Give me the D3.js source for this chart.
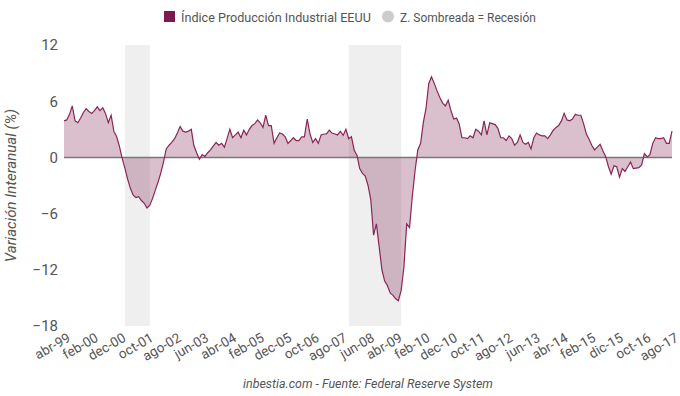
<!DOCTYPE html>
<html>
<head>
<meta charset="utf-8">
<script src="https://cdn.jsdelivr.net/npm/d3@7"></script>
<style>
  body { margin: 0; background: #fff; }
  svg text { font-family: Roboto, "Liberation Sans", Arial, sans-serif; fill: #555; }
</style>
</head>
<body>
<div id="chart"></div>
<script>
// monthly, abr-99 .. ago-17
const startMonth = new Date(1999, 3, 1)
const ipValues = [
  3.9, 4.0, 4.6, 5.5, 3.9, 3.7, 4.2, 4.8, 5.2,
  4.9, 4.7, 5.0, 5.4, 5.0, 5.3, 4.7, 3.7, 4.5, 2.8, 2.2, 1.2,
  -0.1, -1.2, -2.3, -3.3, -4.0, -4.3, -4.2, -4.6, -4.9, -5.4, -5.1, -4.4,
  -3.5, -2.6, -1.7, -0.5, 0.9, 1.3, 1.6, 2.0, 2.6, 3.3, 2.8, 2.7,
  2.8, 3.0, 1.3, 0.5, -0.2, 0.3, 0.1, 0.5, 0.8, 1.2, 1.6, 1.3,
  1.5, 1.1, 2.0, 3.0, 2.1, 2.4, 2.7, 2.1, 2.9, 2.4, 3.0, 3.4,
  3.6, 4.0, 3.7, 3.2, 4.5, 3.4, 3.4, 1.5, 2.1, 2.6, 2.5, 2.2,
  1.5, 1.8, 2.1, 1.8, 1.8, 2.2, 2.2, 4.1, 2.5, 1.6, 2.0, 1.5,
  2.4, 2.5, 2.5, 2.9, 2.6, 2.5, 2.4, 2.8, 2.35, 3.0, 2.0, 2.2,
  0.75, 0.2, -1.2, -1.7, -2.0, -3.0, -4.5, -8.3, -7.1, -9.5, -12.0, -13.2,
  -13.7, -14.5, -14.7, -15.1, -15.3, -14.2, -11.7, -7.1, -7.5, -4.2, -1.4, 0.8,
  1.5, 3.8, 5.2, 7.9, 8.6, 7.9, 7.1, 6.4, 5.8, 5.5, 6.1, 5.0,
  4.1, 4.2, 3.6, 2.1, 2.1, 2.0, 2.3, 2.1, 3.0, 2.8, 2.4, 3.9,
  2.4, 3.7, 3.6, 3.5, 3.1, 2.1, 2.1, 1.8, 2.3, 2.0, 1.3, 1.6,
  2.4, 1.6, 1.4, 1.6, 0.9, 2.1, 2.6, 2.4, 2.3, 2.3, 2.0, 2.4,
  2.9, 3.2, 3.4, 3.9, 4.7, 4.0, 3.9, 4.1, 4.6, 4.5, 4.5, 3.6,
  2.5, 1.9, 1.3, 0.8, 1.1, 1.4, 0.7, 0.1, -1.0, -1.8, -0.9, -1.0,
  -2.1, -1.2, -1.5, -1.0, -0.5, -1.2, -1.15, -1.1, -0.8, 0.4, 0.05, 0.3,
  1.5, 2.1, 2.0, 2.0, 2.1, 1.5, 1.5, 2.8
]
const tickLabels = ['abr-99', 'feb-00', 'dec-00', 'oct-01', 'ago-02', 'jun-03', 'abr-04',
  'feb-05', 'dec-05', 'oct-06', 'ago-07', 'jun-08', 'abr-09', 'feb-10', 'dec-10', 'oct-11',
  'ago-12', 'jun-13', 'abr-14', 'feb-15', 'dic-15', 'oct-16', 'ago-17']
const yTicks = [12, 6, 0, -6, -12, -18]
// recession periods as [first month, last month]
const recessions = [
  [new Date(2001, 1, 1), new Date(2001, 10, 1)],
  [new Date(2007, 10, 1), new Date(2009, 5, 1)]
]

const width = 680
const height = 396
const margin = { top: 45, right: 8, bottom: 70, left: 64 }
const mainColor = '#7b1a4b'

// shrink a text until it fits a given width
function fitText (sel, maxWidth) {
  const node = sel.node()
  const size = parseFloat(sel.style('font-size'))
  const len = node.getComputedTextLength()
  if (len > maxWidth) sel.style('font-size', (size * maxWidth / len) + 'px')
  return sel
}

const data = ipValues.map((v, i) => ({ date: d3.timeMonth.offset(startMonth, i), value: v }))
const tickDates = tickLabels.map((_, i) => d3.timeMonth.offset(startMonth, i * 10))

const x = d3.scaleTime()
  .domain(d3.extent(data, d => d.date))
  .range([margin.left, width - margin.right])
const y = d3.scaleLinear()
  .domain([-18, 12])
  .range([height - margin.bottom, margin.top])

const svg = d3.select('#chart').append('svg')
  .attr('width', width)
  .attr('height', height)

svg.selectAll('.rec')
  .data(recessions).enter()
  .append('rect')
  .attr('x', d => x(d[0]))
  .attr('width', d => x(d[1]) - x(d[0]))
  .attr('y', y(12))
  .attr('height', y(-18) - y(12))
  .attr('fill', '#efefef')

const area = d3.area()
  .x(d => x(d.date))
  .y0(y(0))
  .y1(d => y(d.value))

svg.append('path')
  .datum(data)
  .attr('d', area)
  .attr('fill', mainColor)
  .attr('fill-opacity', 0.28)

svg.append('line')
  .attr('x1', x.range()[0])
  .attr('x2', x.range()[1])
  .attr('y1', y(0))
  .attr('y2', y(0))
  .attr('stroke', '#777')
  .attr('stroke-width', 1.5)

svg.append('path')
  .datum(data)
  .attr('d', d3.line().x(d => x(d.date)).y(d => y(d.value)))
  .attr('fill', 'none')
  .attr('stroke', '#8a2656')
  .attr('stroke-width', 1.2)

// y axis
const yAxis = svg.append('g')
  .attr('transform', `translate(${margin.left - 6},0)`)
  .call(d3.axisLeft(y).tickValues(yTicks).tickSize(0).tickPadding(0))
yAxis.select('.domain').remove()
yAxis.attr('font-family', null).attr('font-size', null)
yAxis.selectAll('text')
  .style('font-size', '15px')
  .attr('fill', '#555')

// x axis
const xAxis = svg.append('g')
  .attr('transform', `translate(0,${height - margin.bottom})`)
  .call(d3.axisBottom(x).tickValues(tickDates).tickFormat((d, i) => tickLabels[i]).tickSize(0))
xAxis.select('.domain').remove()
xAxis.attr('font-family', null).attr('font-size', null)
xAxis.selectAll('text')
  .style('font-size', '13.5px')
  .attr('fill', '#555')
  .attr('text-anchor', 'end')
  .attr('transform', 'translate(2,6) rotate(-30)')
  .attr('dy', '0.5em')

svg.append('text')
  .attr('transform', `translate(16,${(margin.top + height - margin.bottom) / 2}) rotate(-90)`)
  .attr('text-anchor', 'middle')
  .style('font-size', '15px')
  .style('font-style', 'italic')
  .text('Variación Interanual (%)')

fitText(svg.append('text')
  .attr('x', 368)
  .attr('y', 388)
  .attr('text-anchor', 'middle')
  .style('font-size', '14px')
  .style('font-style', 'italic')
  .text('inbestia.com - Fuente: Federal Reserve System'), 250)

// legend
const legend = svg.append('g')
legend.append('rect')
  .attr('x', 164).attr('y', 11).attr('width', 11).attr('height', 11)
  .attr('fill', mainColor)
fitText(legend.append('text')
  .attr('x', 181).attr('y', 21.5)
  .style('font-size', '14.5px')
  .text('Índice Producción Industrial EEUU'), 190)
legend.append('circle')
  .attr('cx', 388).attr('cy', 16.5).attr('r', 6)
  .attr('fill', '#ccc')
fitText(legend.append('text')
  .attr('x', 400).attr('y', 21.5)
  .style('font-size', '14.5px')
  .text('Z. Sombreada = Recesión'), 136)
</script>
</body>
</html>
